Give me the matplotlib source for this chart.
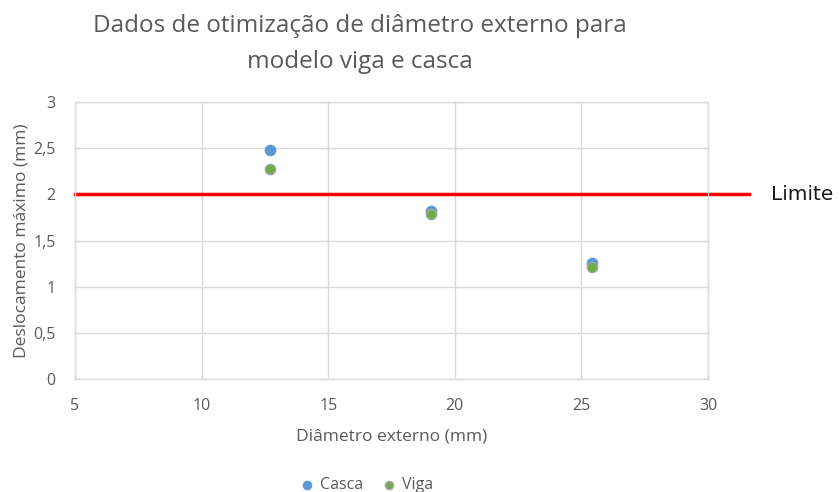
import matplotlib
matplotlib.use("Agg")
import matplotlib.pyplot as plt

# Data
diametro = [12.7, 19.05, 25.4]
casca = [2.48, 1.82, 1.26]
viga = [2.27, 1.79, 1.21]
limite = 2.0
x_ticks = [5, 10, 15, 20, 25, 30]
y_ticks = [0, 0.5, 1, 1.5, 2, 2.5, 3]
y_tick_labels = ["0", "0,5", "1", "1,5", "2", "2,5", "3"]

plt.rcParams['font.family'] = ['Open Sans', 'DejaVu Sans']
txt = "#595959"
grid_c = "#d9d9d9"

fig = plt.figure(figsize=(8.4, 4.92), dpi=100)
ax = fig.add_axes([75/840, 1-379/492, (708-75)/840, (379-102)/492])

ax.set_xlim(5, 30)
ax.set_ylim(0, 3)
ax.set_xticks(x_ticks)
ax.set_yticks(y_ticks)
ax.set_yticklabels(y_tick_labels)
ax.tick_params(length=0, labelsize=11.5, colors=txt)
ax.tick_params(axis="x", pad=14)
ax.tick_params(axis="y", pad=14)
ax.grid(True, color=grid_c, linewidth=1)
ax.set_axisbelow(True)
for s in ax.spines.values():
    s.set_color(grid_c)
    s.set_linewidth(1)

ax.scatter(diametro, casca, s=55, color="#5b9bd5", zorder=3, label="Casca")
ax.scatter(diametro, viga, s=55, color="#70ad47", edgecolor="#a5a5a5",
           linewidth=1, zorder=4, label="Viga")

# Limit line extends past the right edge of the plot area
ax.plot([5, 31.6], [limite, limite], color="#ff0000", linewidth=2.5,
        clip_on=False, zorder=2)
ax.text(32.5, limite, "Limite", family="DejaVu Sans", fontsize=14.5,
        color="#1a1a1a", va="center", ha="left", clip_on=False)

ax.set_xlabel("Diâmetro externo (mm)", fontsize=12.5, color=txt, labelpad=10)
ax.set_ylabel("Deslocamento máximo (mm)", fontsize=12.5, color=txt, labelpad=3)

fig.text(360/840, 1-44/492, "Dados de otimização de diâmetro externo para\nmodelo viga e casca",
         ha="center", va="center", fontsize=17.5, color=txt, linespacing=1.7)

fig.legend(loc="center", bbox_to_anchor=(362/840, 1-485/492), ncol=2, frameon=False,
           fontsize=11.5, labelcolor=txt, handletextpad=-0.2, columnspacing=0.6,
           markerscale=0.8)

fig.savefig("out.png", dpi=100)
